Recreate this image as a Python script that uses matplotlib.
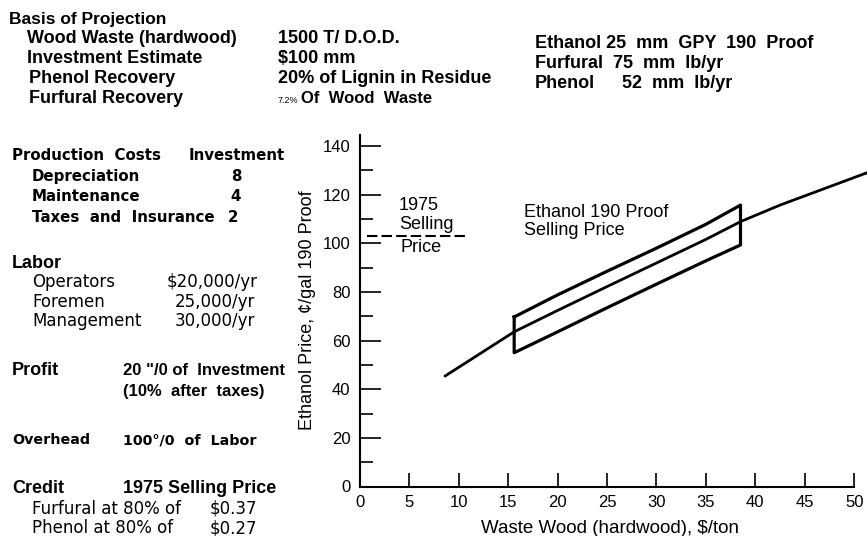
import matplotlib
matplotlib.use("Agg")
import matplotlib.pyplot as plt
from matplotlib.ticker import MultipleLocator

# ethanol price vs. wood cost, middle estimate
curve_x = [8.6, 15.6, 20, 25, 30, 35, 38.5, 42.5, 47, 51.3]
curve_y = [45.4, 63.6, 72.4, 82.2, 91.9, 101.6, 108.9, 115.7, 122.5, 129.0]

# uncertainty band around the estimate
box_x = [15.6, 20, 25, 30, 35, 38.5]
box_top = [69.7, 78.8, 88.5, 98.0, 107.8, 115.7]
box_bot = [55.0, 63.6, 73.5, 83.2, 92.8, 99.3]

# 1975 selling price of ethanol
price_1975 = 103.0
price_1975_x = [0.7, 10.8]

x_ticks = [0, 5, 10, 15, 20, 25, 30, 35, 40, 45, 50]
y_ticks = [0, 20, 40, 60, 80, 100, 120, 140]

W, H = 867, 536
ARIAL = ['Liberation Sans', 'DejaVu Sans']
WIDE = ['DejaVu Sans']

fig = plt.figure(figsize=(W / 100, H / 100), dpi=100)
ax = fig.add_axes([360 / W, 49.5 / H, 507 / W, 355.1 / H])


def put(x, y, s, size=13, weight='bold', family=ARIAL, ha='left'):
    # x, y in pixels from the top-left, y is the text baseline
    fig.text(x / W, 1 - y / H, s, fontsize=size, fontweight=weight,
             family=family, ha=ha, va='baseline')


# header block
put(9, 24, "Basis of Projection", size=12.5)
put(27, 43, "Wood Waste (hardwood)")
put(27, 63, "Investment Estimate")
put(29, 83, "Phenol Recovery")
put(29, 103, "Furfural Recovery")
put(278, 43, "1500 T/ D.O.D.")
put(278, 63, "$100 mm")
put(278, 83, "20% of Lignin in Residue")
put(278, 103, "7.2%", size=6.5, weight='normal')
put(301, 103, "Of  Wood  Waste", size=12)
put(535, 48, "Ethanol 25  mm  GPY  190  Proof")
put(535, 68, "Furfural  75  mm  lb/yr")
put(535, 88, "Phenol")
put(622, 88, "52  mm  lb/yr")

# production costs
put(12, 160, "Production  Costs", size=10.8, family=WIDE)
put(189, 160, "Investment", size=10.8, family=WIDE)
put(32, 181, "Depreciation", size=10.8, family=WIDE)
put(32, 201, "Maintenance", size=10.8, family=WIDE)
put(32, 222, "Taxes  and  Insurance", size=10.8, family=WIDE)
put(236, 181, "8", size=10.8, family=WIDE, ha='center')
put(236, 201, "4", size=10.8, family=WIDE, ha='center')
put(233, 222, "2", size=10.8, family=WIDE, ha='center')

# labor
put(12, 268, "Labor")
put(32, 287, "Operators", size=12, weight='normal', family=WIDE)
put(32, 307, "Foremen", size=12, weight='normal', family=WIDE)
put(32, 326, "Management", size=12, weight='normal', family=WIDE)
put(167, 287, "$20,000/yr", size=12, weight='normal', family=WIDE)
put(175, 307, "25,000/yr", size=12, weight='normal', family=WIDE)
put(175, 326, "30,000/yr", size=12, weight='normal', family=WIDE)

# profit, overhead, credit
put(12, 375, "Profit")
put(123, 375, "20 \"/0 of  Investment", size=12)
put(123, 396, "(10%  after  taxes)", size=12)
put(12, 444, "Overhead", size=10.3, family=WIDE)
put(123, 444, "100°/0  of  Labor", size=10.3, family=WIDE)
put(12, 493, "Credit")
put(123, 493, "1975 Selling Price", size=13)
put(32, 514, "Furfural at 80% of", size=12, weight='normal', family=WIDE)
put(32, 533, "Phenol at 80% of", size=12, weight='normal', family=WIDE)
put(210, 514, "$0.37", size=12, weight='normal', family=WIDE)
put(210, 533, "$0.27", size=12, weight='normal', family=WIDE)

# chart
ax.plot(curve_x, curve_y, color='black', lw=2.0, solid_capstyle='round',
        solid_joinstyle='round', clip_on=False)
bx = box_x + box_x[::-1] + [box_x[0]]
by = box_top + box_bot[::-1] + [box_top[0]]
ax.plot(bx, by, color='black', lw=2.3, solid_joinstyle='round')
ax.plot(price_1975_x, [price_1975, price_1975], color='black', lw=1.5,
        dashes=(5, 2))

ax.text(3.95, 115.7, "1975", fontsize=13, family=ARIAL, va='center')
ax.text(3.95, 107.9, "Selling", fontsize=13, family=ARIAL, va='center')
ax.text(4.05, 98.1, "Price", fontsize=13, family=ARIAL, va='center')
ax.text(16.6, 112.5, "Ethanol 190 Proof", fontsize=13, family=ARIAL, va='center')
ax.text(16.6, 105.3, "Selling Price", fontsize=13, family=ARIAL, va='center')

ax.set_xlim(0, 51.3)
ax.set_ylim(0, 146)
for side in ['top', 'right']:
    ax.spines[side].set_visible(False)
ax.spines['left'].set_bounds(0, 144.5)
ax.spines['bottom'].set_bounds(0, 50)
ax.spines['left'].set_linewidth(1.5)
ax.spines['bottom'].set_linewidth(1.5)

ax.set_xticks(x_ticks)
ax.set_yticks(y_ticks)
ax.yaxis.set_minor_locator(MultipleLocator(10))
ax.tick_params(axis='x', direction='in', length=10, width=1.2, pad=6,
               labelsize=12)
ax.tick_params(axis='y', which='major', direction='in', length=15, width=1.2,
               pad=7, labelsize=12)
ax.tick_params(axis='y', which='minor', direction='in', length=9.4, width=1.2)
for lab in ax.get_xticklabels() + ax.get_yticklabels():
    lab.set_family(ARIAL)

fig.text(308 / W, 1 - 310.5 / H, "Ethanol Price, ¢/gal 190 Proof",
         rotation=90, ha='center', va='center', fontsize=13, family=ARIAL)
fig.text(610 / W, 1 - 533 / H, "Waste Wood (hardwood), $/ton",
         ha='center', va='baseline', fontsize=13.5, family=ARIAL)

fig.savefig("out.png", dpi=100)
